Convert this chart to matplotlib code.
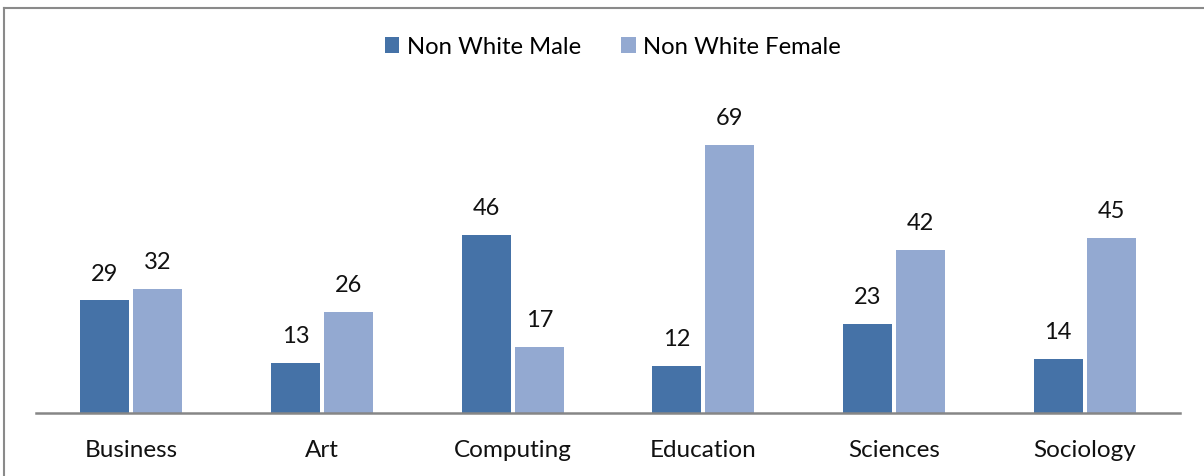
import matplotlib
matplotlib.use("Agg")
import matplotlib.pyplot as plt
from matplotlib.lines import Line2D
import numpy as np

categories = ["Business", "Art", "Computing", "Education", "Sciences", "Sociology"]
male = [29, 13, 46, 12, 23, 14]
female = [32, 26, 17, 69, 42, 45]
series_names = ["Non White Male", "Non White Female"]

male_color = "#4572A7"
female_color = "#93A9D1"

plt.rcParams["font.family"] = ["Lato", "DejaVu Sans"]

fig = plt.figure(figsize=(12.04, 4.76), dpi=100)
ax = fig.add_axes([36 / 1204, 1 - 413 / 476, 1144 / 1204, (413 - 102.6) / 476])

x = np.arange(len(categories))
w = 0.257
gap = 0.011
b1 = ax.bar(x - w / 2 - gap, male, width=w, color=male_color, label=series_names[0])
b2 = ax.bar(x + w / 2 + gap, female, width=w, color=female_color, label=series_names[1])

for bars, vals in ((b1, male), (b2, female)):
    for rect, v in zip(bars, vals):
        ax.annotate(str(v), (rect.get_x() + rect.get_width() / 2, v),
                    xytext=(0, 11.5), textcoords="offset points",
                    ha="center", va="bottom", fontsize=17, color="#111111")

ax.set_xlim(-0.5, len(categories) - 0.5)
ax.set_ylim(0, 80)
ax.set_yticks([])
ax.set_xticks(x)
ax.set_xticklabels(categories, fontsize=17.5, color="#111111")
ax.tick_params(axis="x", length=0, pad=19.5)
for side in ("top", "right", "left"):
    ax.spines[side].set_visible(False)
ax.spines["bottom"].set_color("#868686")
ax.spines["bottom"].set_linewidth(1.8)

fig.legend(handles=[b1, b2], labels=series_names, loc="center",
           bbox_to_anchor=(0.509, 1 - 47 / 476), ncol=2, frameon=False,
           fontsize=17.2, handlelength=0.6, handleheight=0.6,
           handletextpad=0.3, columnspacing=1.7)

# chart frame
fig.add_artist(Line2D([4 / 1204, 1.0], [1 - 8 / 476, 1 - 8 / 476],
                      transform=fig.transFigure, color="#8a8a8a", lw=1.5))
fig.add_artist(Line2D([4 / 1204, 4 / 1204], [0.0, 1 - 8 / 476],
                      transform=fig.transFigure, color="#8a8a8a", lw=1.5))

fig.savefig("out.png", dpi=100)
